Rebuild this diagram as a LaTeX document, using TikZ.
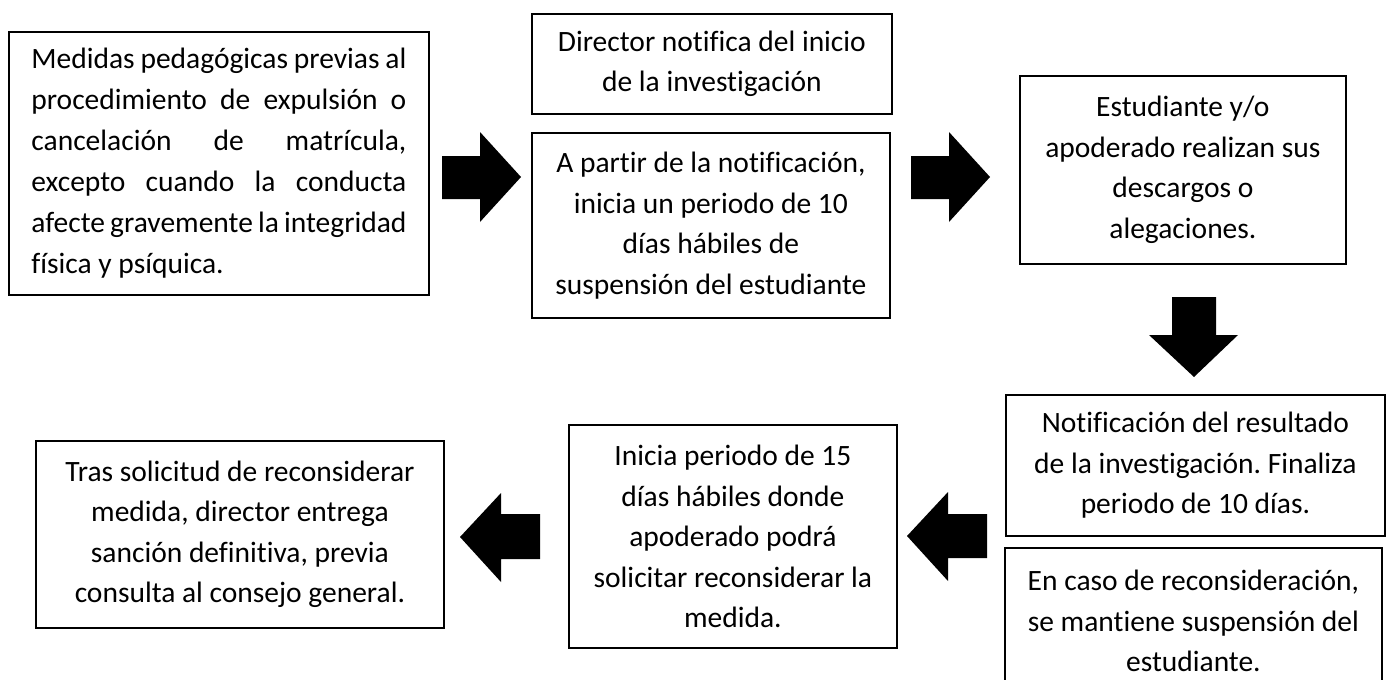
\documentclass[tikz,border=0pt]{standalone}
\usepackage{fontspec}
\setmainfont{Carlito}[Ligatures=NoCommon]
\frenchspacing
\newcommand{\jl}[1]{\makebox[\linewidth][s]{#1}}
\begin{document}
\begin{tikzpicture}[x=1pt,y=-1pt,
  box/.style={draw=black, line width=1.8pt, fill=white, inner sep=0pt,
    font=\fontsize{29.5}{40.5}\selectfont\frenchspacing, align=center, anchor=north west},
  blk/.style={fill=black, draw=none}]
\useasboundingbox (0,0) rectangle (1387,680);
\fill[white] (0,0) rectangle (1387,680);
\begin{scope}
\clip (0,0) rectangle (1387,680);
\node[box, minimum width=420pt, minimum height=263pt] (b1) at (8,31)
  {\parbox{375pt}{\fontsize{29.5}{41}\selectfont
   \jl{Medidas pedagógicas previas al}\\
   \jl{procedimiento de expulsión o}\\
   \jl{cancelación de matrícula,}\\
   \jl{excepto cuando la conducta}\\
   \jl{afecte gravemente la integridad}\\
   física y psíquica.}};
\node[box, minimum width=360pt, minimum height=100pt] (b2) at (531,13)
  {Director notifica del inicio\\de la investigación};
\node[box, minimum width=358pt, minimum height=185pt] (b3) at (531,132)
  {A partir de la notificación,\\inicia un periodo de 10\\días hábiles de\\suspensión del estudiante};
\node[box, minimum width=326pt, minimum height=188pt] (b4) at (1019,75)
  {Estudiante y/o\\apoderado realizan sus\\descargos o\\alegaciones.};
\node[box, minimum width=379pt, minimum height=141pt] (b5) at (1005,394)
  {Notificación del resultado\\de la investigación. Finaliza\\periodo de 10 días.};
\node[box, minimum width=377pt, minimum height=146pt] (b6) at (1004,547)
  {En caso de reconsideración,\\se mantiene suspensión del\\estudiante.};
\node[box, minimum width=328pt, minimum height=223pt] (b7) at (568,424)
  {Inicia periodo de 15\\días hábiles donde\\apoderado podrá\\solicitar reconsiderar la\\medida.};
\node[box, minimum width=408pt, minimum height=187pt] (b8) at (35,440)
  {Tras solicitud de reconsiderar\\medida, director entrega\\sanción definitiva, previa\\consulta al consejo general.};
\end{scope}
% block arrows
\fill[blk] (442,156) -- (480,156) -- (480,132) -- (521,177) -- (480,222) -- (480,199) -- (442,199) -- cycle;
\fill[blk] (911,156) -- (949,156) -- (949,132) -- (990,177) -- (949,222) -- (949,199) -- (911,199) -- cycle;
\fill[blk] (1172,297) -- (1216,297) -- (1216,335) -- (1238,335) -- (1194,377) -- (1149,335) -- (1172,335) -- cycle;
\fill[blk] (987,514) -- (948,514) -- (948,492) -- (907,536) -- (948,581) -- (948,558) -- (987,558) -- cycle;
\fill[blk] (540,514) -- (501,514) -- (501,493) -- (460,537) -- (501,582) -- (501,559) -- (540,559) -- cycle;
\end{tikzpicture}
\end{document}
